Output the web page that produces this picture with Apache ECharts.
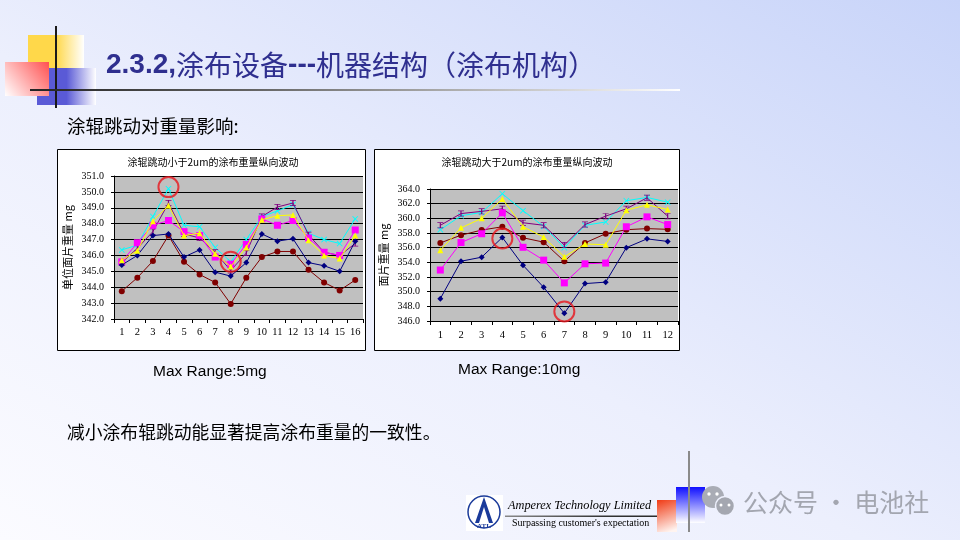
<!DOCTYPE html>
<html>
<head>
<meta charset="utf-8">
<script src="https://cdn.jsdelivr.net/npm/echarts@6/dist/echarts.min.js"></script>
<style>
html, body { margin: 0; padding: 0; }
body {
	width: 960px; height: 540px; overflow: hidden;
	background: linear-gradient(to top right, #fbfbff 0%, #eceffd 45%, #c8d4f9 100%);
}
#main { width: 960px; height: 540px; }
</style>
</head>
<body>
<div id="main"></div>
<script>
// 左图：涂辊跳动小于2um
var catsA = ['1','2','3','4','5','6','7','8','9','10','11','12','13','14','15','16'];
var navyA    = [345.4,346.0,347.25,347.35,345.9,346.35,344.95,344.7,345.55,347.35,346.9,347.05,345.55,345.35,345.0,346.9];
var maroonA  = [343.75,344.6,345.65,347.25,345.6,344.8,344.3,342.95,344.6,345.9,346.25,346.25,345.1,344.3,343.8,344.45];
var magentaA = [345.6,346.8,347.9,348.2,347.5,347.25,345.9,345.45,346.7,348.3,347.9,348.2,347.1,346.2,346.0,347.6];
var yellowA  = [345.7,346.3,348.15,349.15,347.25,347.4,346.1,345.3,346.5,348.25,348.5,348.55,346.95,346.0,345.8,347.25];
var purpleA  = [345.55,346.45,347.5,349.3,347.35,347.1,346.2,345.05,346.15,348.45,349.05,349.3,347.3,346.2,346.0,346.75];
var cyanA    = [346.35,346.65,348.45,350.2,347.9,347.8,346.5,345.6,347.0,348.45,348.8,349.2,347.4,347.0,346.75,348.3];
var circlesA = [[3,350.3],[7,345.6]];

// 右图：涂辊跳动大于2um
var catsB = ['1','2','3','4','5','6','7','8','9','10','11','12'];
var navyB    = [349.05,354.15,354.7,357.4,353.6,350.6,347.05,351.1,351.3,356.0,357.2,356.85];
var maroonB  = [356.65,357.7,358.4,358.85,357.35,356.75,354.15,356.65,357.9,358.45,358.6,358.5];
var magentaB = [352.95,356.7,357.9,360.75,356.05,354.3,351.2,353.8,353.9,358.85,360.2,359.15];
var yellowB  = [355.65,358.7,360.0,362.65,358.85,357.45,354.75,356.5,356.4,361.1,361.85,361.2];
var purpleB  = [359.05,360.65,360.95,361.3,359.4,359.05,356.35,359.15,360.3,361.3,362.8,360.3];
var cyanB    = [358.45,360.35,360.8,363.35,361.05,358.9,356.0,359.05,359.5,362.4,362.85,362.2];
var circlesB = [[3,357.25],[6,347.3]];

var xMark = 'path://M0,1L1,0L5,4L9,0L10,1L6,5L10,9L9,10L5,6L1,10L0,9L4,5Z';
var iMark = 'path://M0,0H6V1.2H3.6V8.8H6V10H0V8.8H2.4V1.2H0Z';

function lines(idx, navy, maroon, magenta, yellow, purple, cyan, circles){
	var defs = [
		{ d: navy, c: '#000080', s: 'diamond', z: 7 },
		{ d: maroon, c: '#800000', s: 'circle', z: 6 },
		{ d: magenta, c: '#ff00ff', s: 'rect', z: 6 },
		{ d: yellow, c: '#ffff00', s: 'triangle', z: 8 },
		{ d: purple, c: '#800080', s: iMark, z: 5 },
		{ d: cyan, c: '#00ffff', s: xMark, z: 4 }
	];
	var out = defs.map(function(o){
		return {
			type: 'line',
			xAxisIndex: idx,
			yAxisIndex: idx,
			data: o.d,
			symbol: o.s,
			symbolSize: o.s === 'rect' ? 7 : 6,
			showAllSymbol: true,
			z: o.z,
			lineStyle: { color: o.c, width: 1 },
			itemStyle: { color: o.c },
			emphasis: { disabled: true },
			animation: false
		};
	});
	out.push({
		type: 'scatter',
		xAxisIndex: idx,
		yAxisIndex: idx,
		data: circles,
		symbol: 'circle',
		symbolSize: 20,
		z: 10,
		itemStyle: { color: 'rgba(0,0,0,0)', borderColor: '#e8141c', borderWidth: 2 },
		animation: false
	});
	return out;
}

function xAx(idx, cats, margin){
	return {
		type: 'category',
		gridIndex: idx,
		data: cats,
		boundaryGap: true,
		axisLine: { lineStyle: { color: '#000', width: 1 } },
		axisTick: { show: true, length: 4, lineStyle: { color: '#000' } },
		axisLabel: { color: '#000', fontSize: 10.5, fontFamily: 'Liberation Serif', margin: margin }
	};
}

function yAx(idx, min, max, step, name){
	return {
		type: 'value',
		gridIndex: idx,
		min: min,
		max: max,
		interval: step,
		name: name,
		nameLocation: 'middle',
		nameGap: 41,
		nameTextStyle: { color: '#000', fontSize: 11, fontFamily: 'Noto Sans CJK SC' },
		axisLine: { show: true, lineStyle: { color: '#000', width: 1 } },
		axisTick: { show: true, length: 3, lineStyle: { color: '#000' } },
		axisLabel: {
			color: '#000', fontSize: 10, fontFamily: 'Liberation Serif', margin: 10,
			formatter: function(v){ return v.toFixed(1); }
		},
		splitLine: { show: true, lineStyle: { color: '#000', width: 1 } }
	};
}

var myChart = echarts.init(document.getElementById('main'));
var option = {
	animation: false,
	grid: [
		{ left: 114, top: 176, width: 249, height: 143, show: true, backgroundColor: '#c0c0c0', borderWidth: 0 },
		{ left: 430, top: 189, width: 248, height: 132, show: true, backgroundColor: '#c0c0c0', borderWidth: 0 }
	],
	xAxis: [ xAx(0, catsA, 8), xAx(1, catsB, 9) ],
	yAxis: [
		yAx(0, 342, 351, 1, '单位面片重量 mg'),
		yAx(1, 346, 364, 2, '面片重量 mg')
	],
	series: lines(0, navyA, maroonA, magentaA, yellowA, purpleA, cyanA, circlesA)
		.concat(lines(1, navyB, maroonB, magentaB, yellowB, purpleB, cyanB, circlesB)),
	graphic: [
		// 图框
		{ type: 'rect', z: -10, shape: { x: 57.5, y: 149.5, width: 308, height: 201 },
		  style: { fill: '#fff', stroke: '#000', lineWidth: 1 } },
		{ type: 'rect', z: -10, shape: { x: 374.5, y: 149.5, width: 305, height: 201 },
		  style: { fill: '#fff', stroke: '#000', lineWidth: 1 } },
		{ type: 'text', x: 213, y: 162, style: { text: '涂辊跳动小于2um的涂布重量纵向波动', fill: '#000',
		  font: '10px "Noto Sans CJK SC"', textAlign: 'center', textVerticalAlign: 'middle' } },
		{ type: 'text', x: 527, y: 162, style: { text: '涂辊跳动大于2um的涂布重量纵向波动', fill: '#000',
		  font: '10px "Noto Sans CJK SC"', textAlign: 'center', textVerticalAlign: 'middle' } },

		// 左上装饰
		{ type: 'rect', z: -5, shape: { x: 28, y: 35, width: 56, height: 50 },
		  style: { fill: new echarts.graphic.LinearGradient(0, 0, 1, 0, [
			{ offset: 0, color: '#ffd84a' }, { offset: 0.5, color: '#ffd84a' }, { offset: 1, color: '#ffffff' }]) } },
		{ type: 'rect', z: -4, shape: { x: 37, y: 68, width: 59, height: 37 },
		  style: { fill: new echarts.graphic.LinearGradient(0, 0, 1, 0, [
			{ offset: 0, color: '#5a5ad6' }, { offset: 0.5, color: '#5a5ad6' }, { offset: 1, color: '#ffffff' }]) } },
		{ type: 'rect', z: -3, shape: { x: 5, y: 62, width: 44, height: 34 },
		  style: { fill: new echarts.graphic.LinearGradient(1, 0, 0, 1, [
			{ offset: 0, color: '#ff5050' }, { offset: 1, color: '#ffffff' }]) } },
		{ type: 'line', z: -2, shape: { x1: 56, y1: 26, x2: 56, y2: 108 },
		  style: { stroke: '#1a1a1a', lineWidth: 2 } },
		{ type: 'rect', z: -2, shape: { x: 30, y: 89, width: 650, height: 2 },
		  style: { fill: new echarts.graphic.LinearGradient(0, 0, 1, 0, [
			{ offset: 0, color: '#222222' }, { offset: 0.35, color: '#666666' }, { offset: 1, color: '#ffffff' }]) } },

		// 标题与正文
		{ type: 'text', x: 106, y: 65, style: {
		  text: '{b|2.3.2,}涂布设备{b|---}机器结构（涂布机构）',
		  fill: '#2f2f8f', font: '28px "Noto Sans CJK SC"', textVerticalAlign: 'middle',
		  rich: { b: { fontSize: 28, fontWeight: 'bold', fontFamily: 'Liberation Sans', fill: '#2f2f8f' } } } },
		{ type: 'text', x: 67, y: 126, style: { text: '涂辊跳动对重量影响:', fill: '#000',
		  font: '18.5px "Noto Sans CJK SC"', textVerticalAlign: 'middle' } },
		{ type: 'text', x: 153, y: 372, style: { text: 'Max Range:5mg', fill: '#000',
		  font: '15.5px "Liberation Sans"', textVerticalAlign: 'middle' } },
		{ type: 'text', x: 458, y: 370, style: { text: 'Max Range:10mg', fill: '#000',
		  font: '15.5px "Liberation Sans"', textVerticalAlign: 'middle' } },
		{ type: 'text', x: 67, y: 432, style: { text: '减小涂布辊跳动能显著提高涂布重量的一致性。', fill: '#000',
		  font: '17.8px "Noto Sans CJK SC"', textVerticalAlign: 'middle' } },

		// 页脚 ATL
		{ type: 'rect', shape: { x: 466, y: 495, width: 37, height: 36 }, style: { fill: '#fff' } },
		{ type: 'circle', shape: { cx: 484, cy: 512, r: 16 }, style: { fill: '#fff', stroke: '#1a3a9a', lineWidth: 1.5 } },
		{ type: 'polygon', shape: { points: [[484, 497], [493, 523], [489, 523], [484, 507], [479, 523], [475, 523]] },
		  style: { fill: '#1a3a9a' } },
		{ type: 'text', x: 484, y: 526, style: { text: 'ATL', fill: '#1a3a9a', font: 'bold 7px "Liberation Serif"',
		  textAlign: 'center', textVerticalAlign: 'middle' } },
		{ type: 'text', x: 508, y: 506, style: { text: 'Amperex Technology Limited', fill: '#000',
		  font: 'italic 12.3px "Liberation Serif"', textVerticalAlign: 'middle' } },
		{ type: 'rect', shape: { x: 505, y: 515.5, width: 198, height: 1.5 },
		  style: { fill: new echarts.graphic.LinearGradient(0, 0, 1, 0, [
			{ offset: 0, color: '#888' }, { offset: 0.5, color: '#333' }, { offset: 1, color: '#222' }]) } },
		{ type: 'text', x: 512, y: 523, style: { text: 'Surpassing customer\'s expectation', fill: '#000',
		  font: '10px "Liberation Serif"', textVerticalAlign: 'middle' } },
		{ type: 'rect', shape: { x: 657, y: 500, width: 20, height: 32 },
		  style: { fill: new echarts.graphic.LinearGradient(0, 0, 0.6, 1, [
			{ offset: 0, color: '#f03a14' }, { offset: 1, color: '#fff4f0' }]) } },
		{ type: 'rect', shape: { x: 676, y: 487, width: 29, height: 36 },
		  style: { fill: new echarts.graphic.LinearGradient(0, 0, 0, 1, [
			{ offset: 0, color: '#1010ff' }, { offset: 1, color: '#ffffff' }]) } },
		{ type: 'line', shape: { x1: 689, y1: 451, x2: 689, y2: 532 }, style: { stroke: '#8a8a8a', lineWidth: 2 } },

		// 水印
		{ type: 'circle', shape: { cx: 713, cy: 497, r: 11 }, style: { fill: '#a9acb5' } },
		{ type: 'circle', shape: { cx: 725, cy: 506, r: 9.5 }, style: { fill: '#a4a7b0', stroke: '#eef1fd', lineWidth: 1.5 } },
		{ type: 'circle', shape: { cx: 709, cy: 494, r: 1.7 }, style: { fill: '#fff' } },
		{ type: 'circle', shape: { cx: 717, cy: 494, r: 1.7 }, style: { fill: '#fff' } },
		{ type: 'circle', shape: { cx: 721, cy: 505, r: 1.5 }, style: { fill: '#fff' } },
		{ type: 'circle', shape: { cx: 729, cy: 505, r: 1.5 }, style: { fill: '#fff' } },
		{ type: 'text', x: 743, y: 502, style: { text: '公众号 · 电池社', fill: '#a3a6b0',
		  font: '25px "Noto Sans CJK SC"', textVerticalAlign: 'middle' } }
	]
};
myChart.setOption(option);
window.addEventListener("resize", function() {
	myChart.resize();
});
</script>
</body>
</html>
